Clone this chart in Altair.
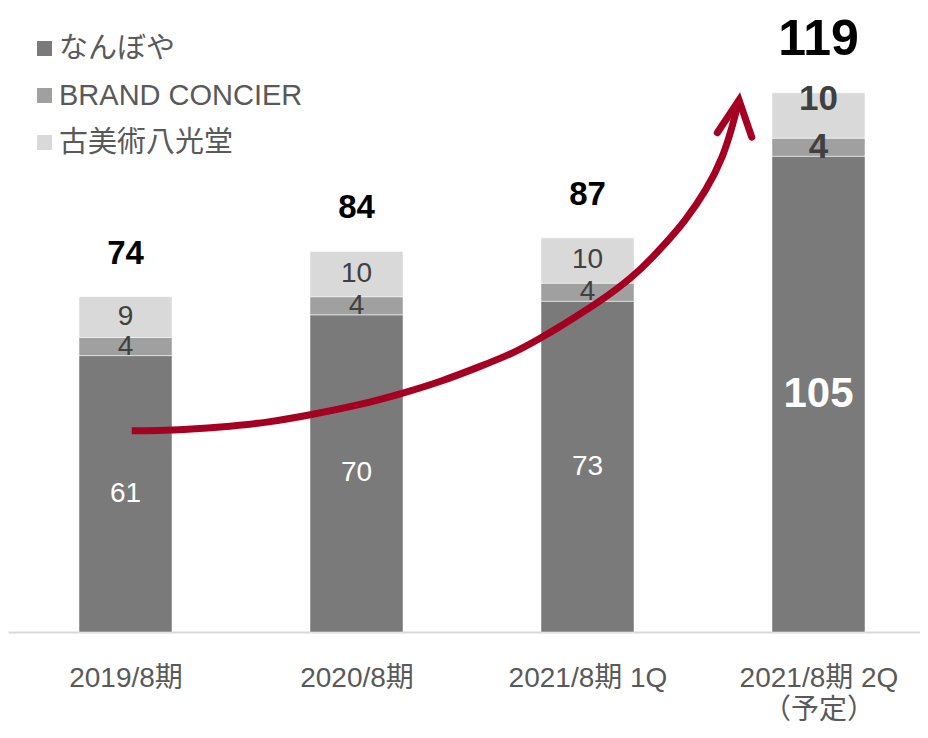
import altair as alt
import pandas as pd
import json

# ---- data ----
categories = ["2019/8期", "2020/8期", "2021/8期 1Q", "2021/8期 2Q|（予定）"]
series = ["なんぼや", "BRAND CONCIER", "古美術八光堂"]
nanboya = [61, 70, 73, 105]
brand_concier = [4, 4, 4, 4]
hakkodo = [9, 10, 10, 10]
totals = [74, 84, 87, 119]
colors = ["#7a7a7a", "#a0a0a0", "#d9d9d9"]

# growth arrow path (x in category-index units, y in value units)
arrow_x = [0.027, 0.200, 0.409, 0.626, 0.799, 1.015, 1.201, 1.362, 1.535, 1.678, 1.794,
           1.881, 2.054, 2.197, 2.284, 2.357, 2.415, 2.516, 2.588, 2.631, 2.656]
arrow_y = [44.4, 44.5, 45.2, 46.3, 47.9, 50.1, 52.7, 55.2, 58.6, 61.5, 64.8,
           67.4, 72.9, 78.4, 82.8, 86.9, 90.2, 97.6, 104.9, 112.3, 117.4]
head_x = [2.562, 2.656, 2.711]
head_y = [110.2, 117.4, 109.2]

FONT = "Liberation Sans, Arial, Noto Sans CJK JP, sans-serif"
HALF = 0.2013  # half bar width in category-step units

rows = []
for i, c in enumerate(categories):
    lo = 0
    for k, (s, vals) in enumerate(zip(series, [nanboya, brand_concier, hakkodo])):
        v = vals[i]
        rows.append(dict(cat=c, idx=i, x0=i - HALF, x1=i + HALF, series=s, k=k, value=v,
                         lo=lo, hi=lo + v, mid=lo + v / 2, last=(i == len(categories) - 1)))
        lo += v
df = pd.DataFrame(rows)
df_tot = pd.DataFrame(dict(cat=categories, idx=list(range(len(categories))), total=totals,
                           last=[i == len(categories) - 1 for i in range(len(categories))]))
df_arrow = pd.DataFrame(dict(ax=arrow_x, ay=arrow_y, o=list(range(len(arrow_x)))))
df_head = pd.DataFrame(dict(ax=head_x, ay=head_y, o=list(range(len(head_x)))))

yscale = alt.Scale(domain=[0, 130], nice=False, zero=True)
xscale = alt.Scale(domain=[-0.5087, 3.4394], nice=False, zero=False)
label_expr = "split(" + json.dumps(categories, ensure_ascii=False) + "[round(datum.value)], '|')"
xaxis = alt.Axis(title=None, values=list(range(len(categories))), labelExpr=label_expr,
                 ticks=False, grid=False, domainColor="#d9d9d9", domainWidth=2,
                 labelFontSize=28, labelColor="#595959", labelPadding=46, labelLineHeight=32,
                 labelAngle=0, labelFont=FONT, labelFlush=False, labelOverlap=False,
                 labelBaseline="middle")

def tx(field="idx"):
    return alt.X(f"{field}:Q", scale=xscale, axis=xaxis)

bars = alt.Chart(df).mark_bar(stroke="white", strokeWidth=0.8, strokeOpacity=0.6).encode(
    x=tx("x0"),
    x2="x1:Q",
    y=alt.Y("lo:Q", scale=yscale, axis=None),
    y2="hi:Q",
    color=alt.Color("series:N", scale=alt.Scale(domain=series, range=colors), sort=series,
                    legend=alt.Legend(orient="none", legendX=22, legendY=-9, title=None,
                                      symbolType="square", symbolSize=225, symbolStrokeWidth=0,
                                      labelFontSize=29, labelColor="#595959", labelFont=FONT,
                                      labelOffset=0, rowPadding=17, direction="vertical",
                                      labelLimit=500)),
)

txt_color = alt.condition("datum.series == 'なんぼや'", alt.value("white"), alt.value("#404040"))

inner = alt.Chart(df).transform_filter("!datum.last").mark_text(
    font=FONT, fontSize=28, baseline="middle").encode(
    x=tx(), y=alt.Y("mid:Q", scale=yscale, axis=None), text="value:Q", color=txt_color)

inner_last_big = alt.Chart(df).transform_filter("datum.last && datum.k == 0").mark_text(
    font=FONT, fontSize=42, fontWeight="bold", baseline="middle", color="white").encode(
    x=tx(), y=alt.Y("mid:Q", scale=yscale, axis=None), text="value:Q")

inner_last_mid = alt.Chart(df).transform_filter("datum.last && datum.k == 1").mark_text(
    font=FONT, fontSize=35, fontWeight="bold", baseline="middle", color="#404040").encode(
    x=tx(), y=alt.Y("mid:Q", scale=yscale, axis=None), text="value:Q")

inner_last_top = alt.Chart(df).transform_filter("datum.last && datum.k == 2").mark_text(
    font=FONT, fontSize=35, fontWeight="bold", baseline="middle", dy=-16, color="#404040").encode(
    x=tx(), y=alt.Y("mid:Q", scale=yscale, axis=None), text="value:Q")

tot = alt.Chart(df_tot).transform_filter("!datum.last").mark_text(
    font=FONT, fontSize=33, fontWeight="bold", baseline="alphabetic", dy=-33, color="black").encode(
    x=tx(), y=alt.Y("total:Q", scale=yscale, axis=None), text="total:Q")

tot_last = alt.Chart(df_tot).transform_filter("datum.last").mark_text(
    font=FONT, fontSize=50, fontWeight="bold", baseline="alphabetic", dy=-38, color="black").encode(
    x=tx(), y=alt.Y("total:Q", scale=yscale, axis=None), text="total:Q")

shaft = alt.Chart(df_arrow).mark_line(color="#a50021", strokeWidth=7, strokeCap="butt",
                                      interpolate="basis").encode(
    x=tx("ax"), y=alt.Y("ay:Q", scale=yscale, axis=None), order="o:Q")
head = alt.Chart(df_head).mark_line(color="#a50021", strokeWidth=7, strokeCap="round",
                                    strokeJoin="miter").encode(
    x=tx("ax"), y=alt.Y("ay:Q", scale=yscale, axis=None), order="o:Q")

chart = alt.layer(bars, inner, inner_last_big, inner_last_mid, inner_last_top,
                  tot, tot_last, shaft, head).properties(
    width=912, height=589,
    autosize=alt.AutoSizeParams(type="none"),
    padding={"left": 0, "top": 35, "right": 0, "bottom": 91},
    view=alt.ViewBackground(stroke="transparent", strokeWidth=0),
).configure_view(stroke="transparent", strokeWidth=0).configure(font=FONT)

chart.save("out.html", embed_options={"renderer": "svg", "actions": False})
